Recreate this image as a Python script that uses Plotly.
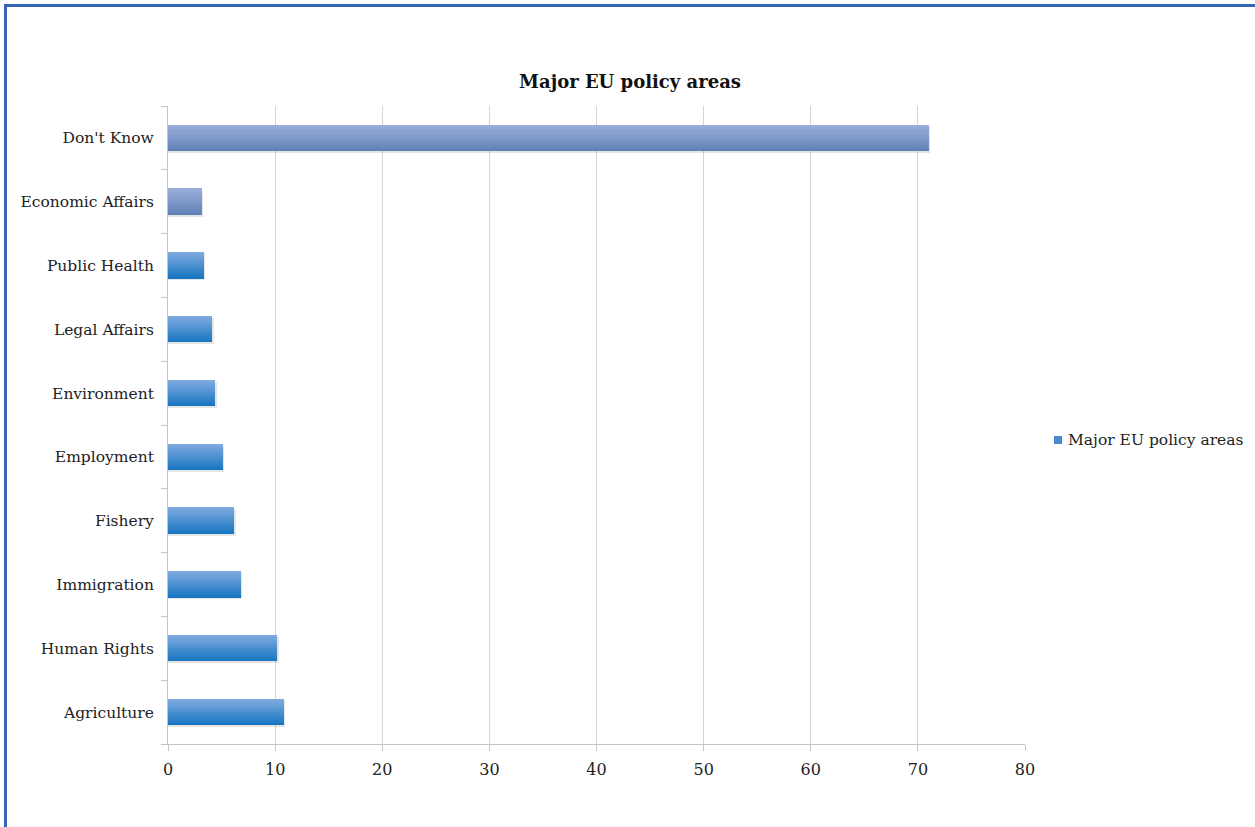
import plotly.graph_objects as go

# Policy areas, listed bottom to top
categories = ["Agriculture", "Human Rights", "Immigration", "Fishery", "Employment",
              "Environment", "Legal Affairs", "Public Health", "Economic Affairs", "Don't Know"]
values = [10.8, 10.2, 6.8, 6.2, 5.1, 4.4, 4.1, 3.35, 3.15, 71.0]
series_name = "Major EU policy areas"
x_ticks = [0, 10, 20, 30, 40, 50, 60, 70, 80]

# two colour families for the bar gradients (top colour, bottom colour)
BLUE = ((0x80, 0xAB, 0xDF), (0x15, 0x74, 0xC1))
SLATE = ((0x9A, 0xAF, 0xDA), (0x60, 0x80, 0xB6))
slate_rows = {"Economic Affairs", "Don't Know"}


def mix(top, bottom, t):
    r, g, b = (round(top[k] + (bottom[k] - top[k]) * t) for k in range(3))
    return f"rgb({r},{g},{b})"


BAR_W = 0.41
N = 14
fig = go.Figure()

# soft shadow under each bar
fig.add_trace(go.Bar(
    y=categories, x=[v + 0.15 for v in values], orientation="h",
    width=BAR_W, offset=-BAR_W / 2 - 0.03,
    marker=dict(color="rgba(0,0,0,0.10)", line=dict(width=0)),
    showlegend=False, hoverinfo="skip",
))

# each bar is built from horizontal stripes to give a vertical gradient
for i in range(N):
    t = 1 - (i + 0.5) / N  # i=0 is the bottom stripe
    colors = [mix(*(SLATE if c in slate_rows else BLUE), t) for c in categories]
    fig.add_trace(go.Bar(
        y=categories, x=values, orientation="h",
        width=BAR_W / N + 0.002, offset=-BAR_W / 2 + i * BAR_W / N,
        marker=dict(color=colors, line=dict(width=0)),
        name=series_name, showlegend=False, hoverinfo="skip",
    ))

L, R, T, B = 168, 230, 106, 83
W, H = 1255, 827
pw, ph = W - L - R, H - T - B


def px_x(p):
    return (p - L) / pw


def px_y(p):
    return (H - B - p) / ph


FONT = "DejaVu Serif"
TXT = "#222222"

fig.update_layout(
    width=W, height=H,
    margin=dict(l=L, r=R, t=T, b=B),
    paper_bgcolor="white", plot_bgcolor="white",
    barmode="overlay", bargap=0, showlegend=False,
    font=dict(family=FONT, size=15, color=TXT),
    title=dict(text="<b>" + series_name + "</b>", x=630 / W, xanchor="center",
               y=1 - 82 / H, yanchor="middle",
               font=dict(family=FONT, size=18, color="#111111")),
    xaxis=dict(range=[0, 80], tickvals=x_ticks, showgrid=True, gridcolor="#d6d6d6",
               gridwidth=1, zeroline=False, showline=True, linecolor="#c4c4c4",
               ticks="outside", ticklen=6, tickcolor="#c4c4c4", ticklabelstandoff=5,
               tickfont=dict(family=FONT, size=16, color=TXT), fixedrange=True),
    yaxis=dict(type="category", categoryorder="array", categoryarray=categories,
               showgrid=False, showline=True, linecolor="#c4c4c4", ticks="outside",
               tickson="boundaries", ticklen=6, tickcolor="#c4c4c4",
               ticklabelstandoff=10,
               tickfont=dict(family=FONT, size=15.5, color=TXT)),
    # series key to the right of the plot
    annotations=[
        dict(text=series_name, xref="paper", yref="paper", x=px_x(1066), y=px_y(440),
             xanchor="left", yanchor="middle", showarrow=False,
             font=dict(family=FONT, size=15.5, color=TXT)),
    ],
    shapes=[
        dict(type="rect", xref="paper", yref="paper", x0=px_x(1054), x1=px_x(1062),
             y0=px_y(444), y1=px_y(436), fillcolor="#4a8bd0", line=dict(width=0)),
        dict(type="line", xref="paper", yref="paper", x0=px_x(5), x1=px_x(W + 5),
             y0=px_y(5.5), y1=px_y(5.5), line=dict(color="#3465b5", width=3)),
        dict(type="line", xref="paper", yref="paper", x0=px_x(5.5), x1=px_x(5.5),
             y0=px_y(4), y1=px_y(H + 5), line=dict(color="#3465b5", width=3)),
    ],
)

fig.write_html("out.html")
